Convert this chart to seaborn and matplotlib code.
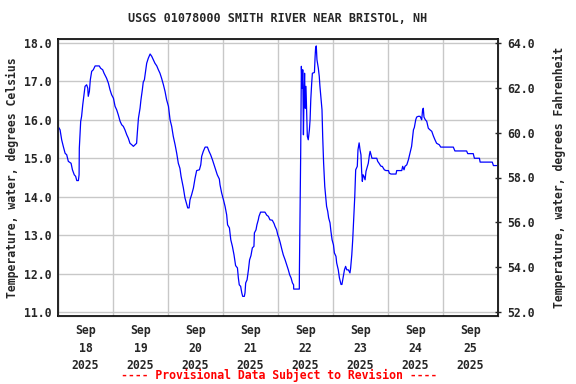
# USGS water temperature plot - Smith River near Bristol, NH
import pandas as pd
import numpy as np
import matplotlib
matplotlib.use('Agg')
import matplotlib.pyplot as plt
import matplotlib.dates as mdates
import seaborn as sns

# hours since 2025-09-18 00:00 and water temperature (deg C)
hours = [0, 0.9, 1.6, 2.3, 3.1, 3.8, 4.5, 5.7, 6.3, 7.1, 7.7, 8.2, 8.9, 9.2,
         9.3, 9.9, 10.3, 10.8, 11.4, 11.8, 12.5, 13.0, 13.2, 13.7, 14.1, 14.7, 15.4, 16.2,
         18.0, 18.6, 19.5, 20.1, 21.2, 22.0, 22.7, 23.4, 24.2, 24.9, 25.6, 26.3, 27.1,
         27.8, 28.5, 29.2, 30.0, 30.7, 31.4, 32.2, 32.9, 33.6, 34.3, 34.6, 35.1, 35.8,
         36.2, 36.8, 37.2, 37.7, 38.3, 38.7, 39.4, 40.2, 40.9, 41.6, 42.3, 43.1, 43.8,
         44.5, 45.2, 46.0, 46.7, 47.4, 48.2, 48.9, 49.6, 50.3, 51.1, 51.8, 52.5, 53.2,
         53.7, 54.0, 54.7, 55.4, 56.2, 56.6, 57.2, 57.6, 58.3, 59.1, 59.8, 60.5, 61.7,
         62.3, 62.7, 63.4, 64.2, 65.2, 65.9, 66.6, 67.4, 68.1, 68.8, 69.5, 70.4, 70.7,
         71.4, 72.2, 72.9, 73.6, 74.0, 74.8, 75.4, 76.1, 76.8, 77.5, 78.3, 78.7, 79.1,
         79.7, 80.2, 80.6, 81.3, 81.6, 81.9, 82.5, 83.1, 83.6, 84.2, 84.8, 85.5, 85.7,
         86.4, 86.8, 87.4, 87.7, 88.4, 90.3, 91.1, 91.8, 92.5, 93.5, 94.3, 94.7, 95.4,
         95.9, 96.4, 97.0, 97.6, 98.3, 99.1, 99.8, 100.5, 101.1, 101.7, 102.3, 102.8,
         102.85, 105.3, 105.35, 105.9, 106.2, 106.5, 106.8, 107.1, 107.4, 107.6, 107.9,
         108.2, 108.5, 108.8, 109.2, 109.7, 110.0, 110.3, 110.7, 111.0, 111.9, 112.2,
         112.4, 112.7, 113.0, 113.6, 114.0, 114.3, 114.8, 115.2, 115.5, 115.9, 116.4,
         116.8, 117.2, 117.7, 118.1, 118.7, 119.1, 119.6, 120.2, 120.6, 121.3, 121.6,
         122.3, 122.8, 123.5, 123.9, 124.5, 125.0, 125.5, 126.0, 126.7, 127.4, 127.7,
         128.2, 128.6, 129.0, 129.5, 129.9, 130.6, 130.9, 131.4, 131.8, 132.2, 132.5,
         132.8, 133.1, 133.5, 134.0, 134.4, 135.0, 135.4, 135.9, 136.2, 136.6, 137.0,
         139.1, 139.5, 140.1, 140.5, 141.0, 141.5, 142.0, 142.4, 143.1, 144.2, 144.6,
         145.3, 147.5, 147.8, 150.0, 150.4, 151.0, 151.4, 152.2, 152.9, 153.6, 154.3,
         155.1, 155.5, 156.1, 156.5, 157.2, 158.0, 158.7, 159.1, 159.4, 159.7, 160.3,
         160.9, 161.6, 162.3, 163.1, 163.8, 164.5, 165.2, 166.4, 167.0, 172.5, 173.2,
         178.3, 178.8, 181.2, 181.7, 183.9, 184.2, 189.5, 190.0, 191.4]
temp_c = [15.83, 15.74, 15.48, 15.31, 15.13, 15.09, 14.92, 14.87, 14.70, 14.57, 14.53,
          14.42, 14.42, 14.57,
          15.26, 15.96, 16.09, 16.39, 16.69, 16.87, 16.91, 16.82, 16.61, 16.74, 17.04,
          17.26, 17.30, 17.40,
          17.40, 17.34, 17.30, 17.21, 17.08, 16.95, 16.78, 16.65, 16.56, 16.35, 16.26,
          16.13, 15.96, 15.87, 15.83, 15.74, 15.61, 15.52, 15.39, 15.35, 15.31, 15.35,
          15.39, 15.65, 16.04, 16.30, 16.52, 16.78, 16.98, 17.04, 17.30, 17.47, 17.60,
          17.71, 17.65, 17.56, 17.47, 17.40, 17.30, 17.21, 17.08, 16.91, 16.74, 16.52,
          16.35, 16.00, 15.83, 15.57, 15.35, 15.13, 14.87, 14.74, 14.53, 14.44, 14.23,
          13.97, 13.79, 13.71, 13.71, 13.92, 14.05, 14.23, 14.48, 14.68, 14.70, 14.83,
          15.05, 15.18, 15.29, 15.29, 15.18, 15.09, 14.96, 14.83, 14.70, 14.57, 14.46,
          14.31, 14.10, 13.92, 13.75, 13.53, 13.27, 13.19, 12.88, 12.71, 12.49, 12.21,
          12.15, 11.89, 11.71, 11.67, 11.50, 11.41, 11.41, 11.50, 11.76, 11.84, 12.10,
          12.36, 12.47, 12.67, 12.71, 13.06, 13.14, 13.27, 13.40, 13.49, 13.60, 13.60,
          13.52, 13.49, 13.40, 13.39, 13.30, 13.23, 13.14, 13.01, 12.93, 12.80, 12.65,
          12.49, 12.36, 12.23, 12.10, 11.97, 11.89, 11.76, 11.71, 11.60, 11.60, 12.10,
          15.13, 17.39, 16.82, 17.30, 15.61, 16.78, 17.21, 16.30, 16.87, 16.17, 15.57,
          15.48, 15.74, 16.00, 16.52, 16.95, 17.21, 17.23, 17.65, 17.86, 17.92, 17.56,
          17.34, 17.13, 16.87, 16.52, 16.26, 15.57, 14.88, 14.27, 14.01, 13.75, 13.62,
          13.45, 13.32, 13.10, 12.88, 12.75, 12.54, 12.45, 12.28, 12.10, 11.89, 11.72,
          11.72, 11.93, 12.10, 12.19, 12.10, 12.10, 12.02, 12.15, 12.49, 12.88, 13.40,
          14.01, 14.70, 14.79, 15.22, 15.40, 15.22, 15.09, 14.66, 14.40, 14.57, 14.53,
          14.44, 14.66, 14.79, 14.87, 15.09, 15.18, 15.09, 15.00, 15.00, 14.92, 14.87,
          14.83, 14.79, 14.79, 14.74, 14.70, 14.68, 14.68, 14.61, 14.59, 14.59, 14.68,
          14.68, 14.79, 14.70, 14.79, 14.83, 14.96, 15.13, 15.31, 15.74, 15.80, 16.00,
          16.07, 16.09, 16.09, 16.00, 16.26, 16.30, 16.07, 16.00, 15.96, 15.78, 15.74,
          15.70, 15.58, 15.48, 15.39, 15.35, 15.29, 15.29, 15.19, 15.19, 15.12, 15.12,
          15.00, 15.00, 14.90, 14.90, 14.81, 14.81]

title = 'USGS 01078000 SMITH RIVER NEAR BRISTOL, NH'
left_label = 'Temperature, water, degrees Celsius'
right_label = 'Temperature, water, degrees Fahrenheit'
footer = '---- Provisional Data Subject to Revision ----'
c_ticks = [11, 12, 13, 14, 15, 16, 17, 18]
f_ticks = [52, 54, 56, 58, 60, 62, 64]

start = pd.Timestamp('2025-09-18 00:00')
df = pd.DataFrame({'time': start + pd.to_timedelta(hours, unit='h'), 'temp': temp_c})

sns.set_style('white')
plt.rcParams['font.family'] = ['DejaVu Sans Mono']
plt.rcParams['font.weight'] = 'bold'
plt.rcParams['axes.labelweight'] = 'bold'
plt.rcParams['axes.titleweight'] = 'bold'
plt.rcParams['font.size'] = 8.3

fig = plt.figure(figsize=(5.76, 3.84), dpi=100)
ax = fig.add_axes([58/576, 1 - 316/384, 440/576, 277/384])

sns.lineplot(data=df, x='time', y='temp', ax=ax, color='#0000ff', lw=0.9,
             estimator=None, sort=False)

ax.set_xlim(start, start + pd.Timedelta(days=8))
ax.set_ylim(10.9, 18.1)

# gridlines at midnight, labels at noon
ax.xaxis.set_minor_locator(mdates.DayLocator())
ax.xaxis.set_major_locator(mdates.HourLocator(byhour=12))
ax.xaxis.set_major_formatter(mdates.DateFormatter('%b\n%d\n%Y'))
ax.grid(which='minor', axis='x', color='#c8c8c8', lw=1)
ax.set_yticks(c_ticks)
ax.set_yticklabels([f'{v:.1f}' for v in c_ticks])
ax.grid(which='major', axis='y', color='#c8c8c8', lw=1)
ax.tick_params(axis='x', which='both', length=0, pad=6)
ax.tick_params(axis='y', length=0, pad=5)
for lbl in ax.get_xticklabels():
    lbl.set_linespacing(1.45)
ax.set_xlabel('')
ax.set_ylabel(left_label, labelpad=3)
for s in ax.spines.values():
    s.set_color('black')
    s.set_linewidth(1.2)

# Fahrenheit axis
ax2 = ax.twinx()
lo, hi = ax.get_ylim()
ax2.set_ylim(52 + (lo - 11) * 12 / 7, 52 + (hi - 11) * 12 / 7)
ax2.set_yticks(f_ticks)
ax2.set_yticklabels([f'{v:.1f}' for v in f_ticks])
ax2.tick_params(axis='y', direction='inout', length=5, width=1, pad=4)
ax2.set_ylabel(right_label, labelpad=13)
ax2.grid(False)

ax.set_title(title, fontsize=8.5, pad=12)
fig.text(0.485, 1 - 375/384, footer, color='red', ha='center', va='center', fontsize=8.3)

fig.savefig('out.png', dpi=100)
